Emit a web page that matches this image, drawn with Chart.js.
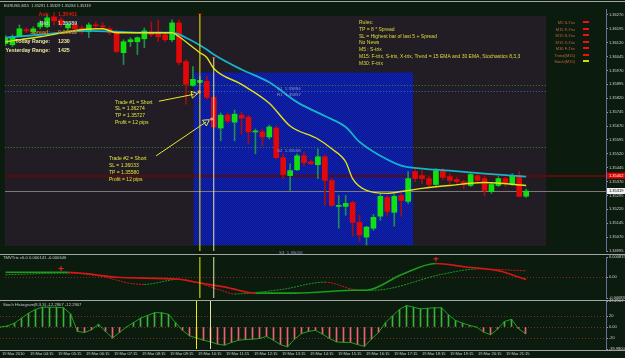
<!DOCTYPE html>
<html>
<head>
<meta charset="utf-8">
<script src="https://cdn.jsdelivr.net/npm/chart.js@4.4.1/dist/chart.umd.min.js"></script>
<style>
  html, body { margin: 0; padding: 0; }
  body {
    width: 625px; height: 358px; overflow: hidden; position: relative;
    background: #0b1b0e; font-family: "Liberation Sans", Arial, sans-serif;
  }
  canvas { position: absolute; left: 0; }
  .t { position: absolute; white-space: pre; line-height: 1; }
  .b { font-weight: bold; font-size: 5.3px; }
  .rule { position: absolute; left: 0; width: 625px; height: 1px; background: #a4a4a4; }
  .mk { position: absolute; left: 583px; width: 6px; height: 2px; background: #f01010; }
  .tm { position: absolute; top: 352px; font-size: 4px; line-height: 1; color: #d0d0d0; white-space: pre; }
</style>
</head>
<body>
<canvas id="main" width="625" height="256" style="top:0"></canvas>
<canvas id="trix" width="625" height="51" style="top:252px"></canvas>
<canvas id="stoch" width="625" height="61" style="top:297px"></canvas>

<div class="rule" style="top:1px"></div>
<div class="rule" style="top:254px"></div>
<div class="rule" style="top:300px"></div>
<div class="rule" style="top:350px"></div>

<div class="t" style="left:4px;top:4px;font-size:3.9px;color:#d0d0d0">EURUSD,M15  1.35291 1.35329 1.35284 1.35319</div>

<div class="t b" style="right:575px;top:12.4px;color:#e01818">Ask:</div>
<div class="t b" style="left:58px;top:12.4px;color:#e01818">1.35401</div>
<div class="t b" style="right:575px;top:21.4px;color:#c4c4c4">Bid:</div>
<div class="t b" style="left:58px;top:21.4px;color:#c4c4c4">1.35389</div>
<div class="t b" style="right:575px;top:30.4px;color:#d07a20">Spread:</div>
<div class="t b" style="left:58px;top:30.4px;color:#d07a20">0.00012</div>
<div class="t b" style="right:575px;top:39.4px;color:#e8e8a0">Today Range:</div>
<div class="t b" style="left:58px;top:39.4px;color:#e8e8a0">1230</div>
<div class="t b" style="right:575px;top:48.4px;color:#e8e8a0">Yesterday Range:</div>
<div class="t b" style="left:58px;top:48.4px;color:#e8e8a0">1425</div>

<div class="t" style="left:359px;top:19px;font-size:5px;line-height:6.8px;color:#dcdc3c">Rules:
TP = 8 * Spread
SL = Highest bar of last 5 + Spread
No News
M5 : S-trix
M15: F-trix, S-trix, X-trix, Trend = 15 EMA and 30 EMA, Stochastics 8,3,3
M30: F-trix</div>

<div class="t" style="right:50px;top:20px;font-size:4px;line-height:6.5px;color:#c0683c;text-align:right">M5 S-Trix
M15 F-Trix
M15 S-Trix
M15 X-Trix
M30 F-Trix
Trend(M15)
Stoch(M15)</div>
<div class="mk" style="top:21px"></div>
<div class="mk" style="top:27.5px"></div>
<div class="mk" style="top:34px"></div>
<div class="mk" style="top:40.5px"></div>
<div class="mk" style="top:47px"></div>
<div class="mk" style="top:53.5px"></div>
<div class="mk" style="top:60px;background:#c8e000"></div>

<div class="t" style="left:115px;top:98.6px;font-size:5px;line-height:6.8px;color:#e0e040">Trade #1 = Short
SL = 1.36274
TP = 1.35727
Profit = 12 pips</div>
<div class="t" style="left:109px;top:154.6px;font-size:5px;line-height:7px;color:#e0e040">Trade #2 = Short
SL = 1.36033
TP = 1.35580
Profit = 12 pips</div>

<div class="t" style="left:277px;top:86.8px;font-size:4.4px;color:#9098c8">S1  1.35894</div>
<div class="t" style="left:277px;top:92.8px;font-size:4.4px;color:#9098c8">R1  1.35857</div>
<div class="t" style="left:277px;top:148.8px;font-size:4.4px;color:#9098c8">S2  1.35558</div>
<div class="t" style="left:279px;top:250.6px;font-size:4.4px;color:#9098c8">S3  1.35016</div>

<div class="t" style="left:3px;top:256px;font-size:4.2px;color:#c8c8c8">TMVTrix v6.0 0.000141 -0.000646</div>
<div class="t" style="left:3px;top:303px;font-size:4.2px;color:#c8c8c8">Stoch Histogram(8,3,3) -12.2907 -12.2907</div>

<script>
// EURUSD M15, 19 Mar 2010, one candle every 15 minutes from 03:15
const OPEN = [1.36115, 1.36109, 1.36158, 1.36190, 1.36179, 1.36206, 1.36206, 1.36259, 1.36243, 1.36200,
  1.36216, 1.36200, 1.36179, 1.36216, 1.36211, 1.36195, 1.36174, 1.36066, 1.36125, 1.36125,
  1.36141, 1.36179, 1.36179, 1.36163, 1.36136, 1.36227, 1.36018, 1.35890, 1.35906, 1.35911,
  1.35825, 1.35659, 1.35729, 1.35691, 1.35729, 1.35718, 1.35638, 1.35638, 1.35611, 1.35659,
  1.35499, 1.35402, 1.35434, 1.35509, 1.35477, 1.35461, 1.35504, 1.35376, 1.35236, 1.35236,
  1.35257, 1.35150, 1.35070, 1.35118, 1.35183, 1.35284, 1.35204, 1.35295, 1.35263, 1.35424,
  1.35402, 1.35386, 1.35354, 1.35429, 1.35397, 1.35381, 1.35370, 1.35349, 1.35402, 1.35386,
  1.35316, 1.35349, 1.35386, 1.35354, 1.35402, 1.35291];
const HIGH = [1.36158, 1.36163, 1.36216, 1.36200, 1.36206, 1.36238, 1.36270, 1.36281, 1.36254, 1.36232,
  1.36227, 1.36211, 1.36227, 1.36232, 1.36227, 1.36206, 1.36184, 1.36136, 1.36147, 1.36152,
  1.36200, 1.36232, 1.36243, 1.36174, 1.36243, 1.36243, 1.36029, 1.35991, 1.35938, 1.35938,
  1.35836, 1.35740, 1.35740, 1.35756, 1.35745, 1.35729, 1.35654, 1.35654, 1.35675, 1.35670,
  1.35520, 1.35466, 1.35520, 1.35531, 1.35488, 1.35547, 1.35515, 1.35386, 1.35295, 1.35295,
  1.35263, 1.35188, 1.35129, 1.35193, 1.35306, 1.35295, 1.35300, 1.35306, 1.35424, 1.35440,
  1.35429, 1.35397, 1.35440, 1.35440, 1.35413, 1.35392, 1.35376, 1.35418, 1.35413, 1.35397,
  1.35365, 1.35397, 1.35392, 1.35413, 1.35424, 1.35329];
const LOW = [1.36104, 1.36099, 1.36152, 1.36174, 1.36168, 1.36195, 1.36200, 1.36216, 1.36206, 1.36184,
  1.36174, 1.36168, 1.36147, 1.36200, 1.36190, 1.36163, 1.36066, 1.36002, 1.36099, 1.36056,
  1.36093, 1.36152, 1.36125, 1.36125, 1.36125, 1.36002, 1.35788, 1.35884, 1.35900, 1.35815,
  1.35659, 1.35590, 1.35686, 1.35590, 1.35627, 1.35574, 1.35520, 1.35563, 1.35600, 1.35493,
  1.35386, 1.35322, 1.35429, 1.35456, 1.35461, 1.35386, 1.35241, 1.35236, 1.35118, 1.35188,
  1.35075, 1.35049, 1.35027, 1.35107, 1.35161, 1.35183, 1.35129, 1.35183, 1.35252, 1.35370,
  1.35359, 1.35343, 1.35349, 1.35381, 1.35359, 1.35359, 1.35333, 1.35343, 1.35365, 1.35295,
  1.35306, 1.35343, 1.35343, 1.35349, 1.35290, 1.35284];
const CLOSE = [1.36147, 1.36152, 1.36195, 1.36184, 1.36195, 1.36227, 1.36254, 1.36238, 1.36222, 1.36222,
  1.36195, 1.36184, 1.36216, 1.36211, 1.36206, 1.36174, 1.36072, 1.36125, 1.36136, 1.36147,
  1.36184, 1.36163, 1.36152, 1.36136, 1.36227, 1.36013, 1.35895, 1.35922, 1.35916, 1.35825,
  1.35665, 1.35729, 1.35697, 1.35734, 1.35713, 1.35638, 1.35643, 1.35611, 1.35665, 1.35499,
  1.35408, 1.35429, 1.35509, 1.35472, 1.35466, 1.35504, 1.35376, 1.35241, 1.35241, 1.35252,
  1.35150, 1.35081, 1.35124, 1.35177, 1.35290, 1.35209, 1.35290, 1.35268, 1.35386, 1.35386,
  1.35386, 1.35354, 1.35429, 1.35392, 1.35376, 1.35370, 1.35354, 1.35408, 1.35376, 1.35322,
  1.35354, 1.35386, 1.35359, 1.35402, 1.35290, 1.35319];

const EMA15_AT = [0, 5, 11, 14, 16, 20, 24, 25, 28, 29, 30, 34, 38, 41, 45, 47, 49, 50, 52, 55, 57, 60, 64, 69, 75];
const EMA15 = [1.36125, 1.36152, 1.36190, 1.36195, 1.36174, 1.36174, 1.36174, 1.36152, 1.36066, 1.36040,
  1.35981, 1.35895, 1.35793, 1.35670, 1.35600, 1.35547, 1.35477, 1.35386, 1.35322, 1.35306,
  1.35316, 1.35333, 1.35349, 1.35365, 1.35349];
const EMA30_AT = [0, 5, 12, 16, 20, 24, 26, 29, 30, 34, 38, 42, 46, 49, 51, 54, 57, 60, 64, 69, 75];
const EMA30 = [1.36147, 1.36163, 1.36184, 1.36179, 1.36174, 1.36174, 1.36147, 1.36083, 1.36056, 1.35975,
  1.35906, 1.35799, 1.35724, 1.35665, 1.35584, 1.35509, 1.35456, 1.35440, 1.35429, 1.35413, 1.35397];

const PRICE_TICKS = [1.36270, 1.36195, 1.36120, 1.36045, 1.35970, 1.35895, 1.35820, 1.35745, 1.35670,
  1.35595, 1.35520, 1.35445, 1.35370, 1.35295, 1.35220, 1.35145, 1.35070, 1.34995];

// levels and objects on the price chart
const S1 = 1.35894, R1 = 1.35857, S2 = 1.35558;
const ASK_LINE = 1.35402, BID_LINE = 1.35319;
const BACK_AT = [-0.1, 77.9], BACK_PRICE = [1.36265, 1.35022];
const ZONE_AT = [27.1, 58.7], ZONE_PRICE = [1.35959, 1.35027];
const VLINE_AT = [28, 30], VLINE_TOP = [1.36275, 1.36040];
const TRADE1_AT = [22.1, 27.1], TRADE1 = [1.35804, 1.35841];
const TRADE2_AT = [21.7, 28.9], TRADE2 = [1.35509, 1.35692];
const ENTRY_AT = [27.9, 29.7], ENTRY = [1.35854, 1.35708];

// TMVTrix panel
const TRIX_FAST_AT = [0, 9, 13, 16, 25, 27, 32, 36, 41, 46, 50, 52, 57, 62, 66, 71, 75];
const TRIX_FAST = [0.000206, 0.000206, 0.000104, 0.0, -0.000078, -0.00018, -0.000414, -0.000634, -0.000634,
  -0.00058, -0.000517, -0.000517, 0.000104, 0.000556, 0.000427, 0.00026, -0.00009];
const TRIX_SLOW_AT = [0, 9, 14, 18, 20, 25, 31, 33, 36, 40, 46, 51, 53, 63, 68, 75];
const TRIX_SLOW = [0.000104, 0.000168, 0.000026, -0.000246, -0.000284, -0.000078, -0.000517, -0.00067,
  -0.00061, -0.00048, -0.000194, -0.000517, -0.000517, 0.000129, 0.000336, 0.00026];
const TRIX_MARK_AT = [8, 62], TRIX_MARK = [0.00035, 0.00074];
const TRIX_TICKS = [0.000815, 0, -0.00083];
const TRIX_TICK_TEXT = ['0.000815', '0.00', '-0.00083'];

// Stoch histogram panel
const STOCH = [0, 2, 7, 16, 25, 32, 36, 36, 36, 35,
  24, -8, -10, -5, 5, -8, -20, -10, 0, 8,
  16, 21, 26, 26, 23, 8, -6, -16, -20, -24,
  -27, -31, -33, -28, -24, -23, -22, -21, -17, -24,
  -32, -36, -22, -12, -8, -6, -13, -21, -27, -28,
  -28, -32, -35, -22, -10, 8, 20, 32, 39, 36,
  33, 34, 35, 35, 22, 12, 7, 3, 0, -9,
  -14, -4, 10, 14, -3, -12.29];
const STOCH_LEVELS = [20, 0, -20];
const STOCH_TICKS = [47.2907, 20, 0, -20, -39.98];
const STOCH_TICK_TEXT = ['47.2907', '20', '0.00', '-20', '-39.9800'];

const TIME_TICKS = [0, 4, 8, 12, 16, 20, 24, 28, 32, 36, 40, 44, 48, 52, 56, 60, 64, 68, 72];
const TIME_LABELS = ['19 Mar 2010', '19 Mar 04:15', '19 Mar 05:15', '19 Mar 06:15', '19 Mar 07:15',
  '19 Mar 08:15', '19 Mar 09:15', '19 Mar 10:15', '19 Mar 11:15', '19 Mar 12:15', '19 Mar 13:15',
  '19 Mar 14:15', '19 Mar 15:15', '19 Mar 16:15', '19 Mar 17:15', '19 Mar 18:15', '19 Mar 19:15',
  '19 Mar 20:15', '19 Mar 21:15'];

const X_MIN = -0.5 / 7;
const X_MAX = X_MIN + 606 / 7;
const BULL = '#10e010', BEAR = '#e00808';
const BULL_WICK = '#1f8f4f', BEAR_WICK = '#a01010';
const UP = '#1e9a1e', DOWN = '#d41818';

Chart.defaults.font.family = '"Liberation Sans", Arial, sans-serif';

const pts = (xs, ys) => xs.map((x, i) => ({ x, y: ys[i] }));
const isBull = (i) => CLOSE[i] >= OPEN[i];

function rightAxis(min, max, tickValues, fmt) {
  return {
    position: 'right', min, max,
    afterFit: (s) => { s.width = 19; },
    afterBuildTicks: (s) => { s.ticks = tickValues.map((v) => ({ value: v })); },
    ticks: { callback: fmt, color: '#d4d4d4', font: { size: 4 }, padding: 1 },
    grid: { drawOnChartArea: false, tickLength: 2, color: '#9a9a9a' },
    border: { display: true, color: '#6c6ca0', dash: [1, 1] },
  };
}

function candleAxis() {
  return { type: 'linear', min: X_MIN, max: X_MAX, offset: false, display: false };
}

function baseOptions(padding, scales) {
  return {
    responsive: false, maintainAspectRatio: false, animation: false,
    devicePixelRatio: 1, events: [],
    layout: { padding },
    plugins: { legend: { display: false }, tooltip: { enabled: false } },
    scales,
  };
}

function hLine(chart, value, color, width, dash, fromAt, toAt) {
  const { ctx, chartArea, scales: { x, y } } = chart;
  const py = Math.round(y.getPixelForValue(value)) + (width % 2 ? 0.5 : 0);
  const x0 = fromAt === undefined ? chartArea.left : x.getPixelForValue(fromAt);
  const x1 = toAt === undefined ? chartArea.right : x.getPixelForValue(toAt);
  ctx.save();
  ctx.strokeStyle = color;
  ctx.lineWidth = width;
  ctx.setLineDash(dash);
  ctx.beginPath();
  ctx.moveTo(x0, py);
  ctx.lineTo(x1, py);
  ctx.stroke();
  ctx.restore();
}

function vLines(chart, tops) {
  const { ctx, chartArea, scales: { x, y } } = chart;
  const colors = ['#f0f000', '#e4e4a6'];
  ctx.save();
  VLINE_AT.forEach((v, i) => {
    const px = x.getPixelForValue(v);
    const top = tops ? y.getPixelForValue(tops[i]) : chartArea.top;
    ctx.strokeStyle = colors[i];
    ctx.lineWidth = 1;
    ctx.beginPath();
    ctx.moveTo(px, top);
    ctx.lineTo(px, chartArea.bottom);
    ctx.stroke();
  });
  ctx.restore();
}

function hatch() {
  const c = document.createElement('canvas');
  c.width = 2; c.height = 2;
  const g = c.getContext('2d');
  g.fillStyle = '#0a1690'; g.fillRect(0, 0, 2, 2);
  g.fillStyle = '#1024b0'; g.fillRect(0, 0, 1, 1); g.fillRect(1, 1, 1, 1);
  return c;
}

function priceTag(chart, value, bg, fg) {
  const { ctx, chartArea, scales: { y } } = chart;
  const py = y.getPixelForValue(value);
  ctx.save();
  ctx.fillStyle = bg;
  ctx.fillRect(chartArea.right + 1, py - 3, 19, 6);
  ctx.fillStyle = fg;
  ctx.font = '4px "Liberation Sans", Arial, sans-serif';
  ctx.textBaseline = 'middle';
  ctx.fillText(value.toFixed(5), chartArea.right + 3, py + 0.3);
  ctx.restore();
}

const mainDecor = {
  id: 'mainDecor',
  beforeDatasetsDraw(chart) {
    const { ctx, scales: { x, y } } = chart;
    ctx.save();
    ctx.fillStyle = '#221c24';
    const bx0 = x.getPixelForValue(BACK_AT[0]), bx1 = x.getPixelForValue(BACK_AT[1]);
    const by0 = y.getPixelForValue(BACK_PRICE[0]), by1 = y.getPixelForValue(BACK_PRICE[1]);
    ctx.fillRect(bx0, by0, bx1 - bx0, by1 - by0);
    ctx.fillStyle = ctx.createPattern(hatch(), 'repeat');
    const zx0 = x.getPixelForValue(ZONE_AT[0]), zx1 = x.getPixelForValue(ZONE_AT[1]);
    const zy0 = y.getPixelForValue(ZONE_PRICE[0]), zy1 = y.getPixelForValue(ZONE_PRICE[1]);
    ctx.fillRect(zx0, zy0, zx1 - zx0, zy1 - zy0);
    ctx.restore();
    hLine(chart, S1, '#348a34', 1, [1, 2], BACK_AT[0], BACK_AT[1]);
    hLine(chart, R1, '#3a6cb0', 1, [1, 2], BACK_AT[0], BACK_AT[1]);
    hLine(chart, S2, '#348a34', 1, [1, 2], BACK_AT[0], BACK_AT[1]);
    hLine(chart, ASK_LINE, '#5c0a0a', 2, []);
    hLine(chart, BID_LINE, '#7a7a7a', 1, []);
  },
  afterDatasetsDraw(chart) { vLines(chart, VLINE_TOP); },
  afterDraw(chart) {
    priceTag(chart, ASK_LINE, '#e00000', '#ffffff');
    priceTag(chart, BID_LINE, '#f2f2f2', '#000000');
  },
};

new Chart(document.getElementById('main'), {
  type: 'bar',
  data: {
    datasets: [
      {
        type: 'scatter', order: 0,
        data: pts(ENTRY_AT, ENTRY),
        pointRadius: 1.6, pointBackgroundColor: '#ff8a7a', pointBorderWidth: 0,
      },
      {
        type: 'scatter', order: 0,
        data: pts(VLINE_AT, VLINE_TOP),
        pointStyle: 'line', pointRadius: 2, pointBorderColor: '#e00000', pointBorderWidth: 1,
      },
      {
        type: 'line', order: 1, data: pts(TRADE1_AT, TRADE1),
        borderColor: '#e8e830', borderWidth: 1,
        pointRadius: [0, 4], pointStyle: 'triangle', pointRotation: 79,
        pointBorderColor: '#e8e830', pointBackgroundColor: 'rgba(0,0,0,0)', pointBorderWidth: 1,
      },
      {
        type: 'line', order: 1, data: pts(TRADE2_AT, TRADE2),
        borderColor: '#e8e830', borderWidth: 1,
        pointRadius: [0, 4], pointStyle: 'triangle', pointRotation: 56,
        pointBorderColor: '#e8e830', pointBackgroundColor: 'rgba(0,0,0,0)', pointBorderWidth: 1,
      },
      {
        type: 'line', order: 2, data: pts(EMA15_AT, EMA15),
        borderColor: '#e2e21c', borderWidth: 1.4, pointRadius: 0, cubicInterpolationMode: 'monotone',
      },
      {
        type: 'line', order: 3, data: pts(EMA30_AT, EMA30),
        borderColor: '#14b4cc', borderWidth: 1.8, pointRadius: 0, cubicInterpolationMode: 'monotone',
      },
      {
        order: 4, grouped: false, barThickness: 5, minBarLength: 1, borderWidth: 0,
        data: OPEN.map((o, i) => ({ x: i, y: [o, CLOSE[i]] })),
        backgroundColor: (c) => (isBull(c.dataIndex) ? BULL : BEAR),
      },
      {
        order: 5, grouped: false, barThickness: 1, borderWidth: 0,
        data: LOW.map((l, i) => ({ x: i, y: [l, HIGH[i]] })),
        backgroundColor: (c) => (isBull(c.dataIndex) ? BULL_WICK : BEAR_WICK),
      },
    ],
  },
  options: baseOptions({ top: 9, bottom: 3, left: 0, right: 0 }, {
    x: candleAxis(),
    y: rightAxis(1.34995, 1.36302, PRICE_TICKS, (v) => v.toFixed(5)),
  }),
  plugins: [mainDecor],
});

new Chart(document.getElementById('trix'), {
  type: 'line',
  data: {
    datasets: [
      {
        type: 'scatter', order: 0, data: pts(TRIX_MARK_AT, TRIX_MARK),
        pointStyle: 'cross', pointRadius: 2.5, pointBorderColor: '#ff2020', pointBorderWidth: 1,
      },
      {
        order: 1, data: pts(TRIX_FAST_AT, TRIX_FAST), borderWidth: 1.6, pointRadius: 0,
        cubicInterpolationMode: 'monotone',
        segment: { borderColor: (c) => (c.p1.parsed.y >= c.p0.parsed.y ? UP : DOWN) },
      },
      {
        order: 2, data: pts(TRIX_SLOW_AT, TRIX_SLOW), borderWidth: 1, borderDash: [2, 1], pointRadius: 0,
        cubicInterpolationMode: 'monotone',
        segment: { borderColor: (c) => (c.p1.parsed.y >= c.p0.parsed.y ? UP : DOWN) },
      },
    ],
  },
  options: baseOptions({ top: 3, bottom: 4, left: 0, right: 0 }, {
    x: candleAxis(),
    y: rightAxis(-0.00083, 0.000815, TRIX_TICKS, (v, i) => TRIX_TICK_TEXT[i]),
  }),
  plugins: [{
    id: 'trixDecor',
    beforeDatasetsDraw(chart) { hLine(chart, 0, '#7a2a2a', 1, [1, 2]); },
    afterDatasetsDraw(chart) { vLines(chart); },
  }],
});

const stochChart = new Chart(document.getElementById('stoch'), {
  type: 'bar',
  data: {
    datasets: [
      {
        type: 'line', order: 0, data: STOCH.map((v, i) => ({ x: i, y: v })),
        borderColor: '#22a022', borderWidth: 1, pointRadius: 0,
      },
      {
        order: 1, grouped: false, barThickness: 1, borderWidth: 0,
        data: STOCH.map((v, i) => ({ x: i, y: v })),
        backgroundColor: (c) => (STOCH[c.dataIndex] >= 0 ? '#3cb43c' : '#ea6470'),
      },
    ],
  },
  options: baseOptions({ top: 4, bottom: 9, left: 0, right: 0 }, {
    x: candleAxis(),
    y: rightAxis(-39.98, 47.2907, STOCH_TICKS, (v, i) => STOCH_TICK_TEXT[i]),
  }),
  plugins: [{
    id: 'stochDecor',
    beforeDatasetsDraw(chart) {
      STOCH_LEVELS.forEach((lv) => hLine(chart, lv, '#7a2a2a', 1, [1, 2]));
    },
    afterDatasetsDraw(chart) { vLines(chart); },
  }],
});

// time axis labels, placed from the stoch chart's own x scale
TIME_TICKS.forEach((v, i) => {
  const d = document.createElement('div');
  d.className = 'tm';
  d.style.left = (stochChart.scales.x.getPixelForValue(v) + 1.5) + 'px';
  d.textContent = TIME_LABELS[i];
  document.body.appendChild(d);
});
</script>
</body>
</html>
